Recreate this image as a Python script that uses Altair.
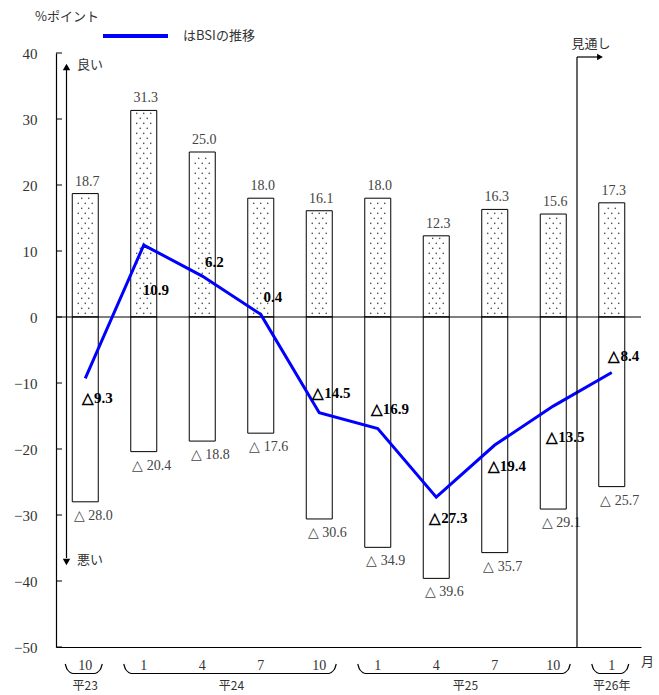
import altair as alt
import pandas as pd

# ---- data ----
months = ["10", "1", "4", "7", "10", "1", "4", "7", "10", "1"]
up_vals = [18.7, 31.3, 25.0, 18.0, 16.1, 18.0, 12.3, 16.3, 15.6, 17.3]
down_vals = [-28.0, -20.4, -18.8, -17.6, -30.6, -34.9, -39.6, -35.7, -29.1, -25.7]
bsi_vals = [-9.3, 10.9, 6.2, 0.4, -14.5, -16.9, -27.3, -19.4, -13.5, -8.4]
bsi_label_offset = [-3.0, -6.8, 2.1, 2.6, 3.0, 3.0, -3.2, -3.2, -4.7, 2.5]
years = ["平23", "平24", "平25", "平26年"]
year_first = [0, 1, 5, 9]
year_last = [0, 4, 8, 9]
y_ticks = [-50, -40, -30, -20, -10, 0, 10, 20, 30, 40]

# ---- layout helpers ----
PL, PT, W, H = 56, 53, 585, 594
STEP = W / 10.0
UNIT = H / 90.0
def to_val(py):
    return 40 - (py - PT) / UNIT

NUM_FONT = "Liberation Serif"
JP_FONT = "Noto Sans CJK JP"

df = pd.DataFrame(dict(i=list(range(10)), month=months, up=up_vals, down=down_vals,
                       bsi=bsi_vals, off=bsi_label_offset))
one = pd.DataFrame({"a": [0]})

xsc = alt.Scale(domain=[-0.5, 9.5], nice=False, zero=False)
ysc = alt.Scale(domain=[-50, 40], nice=False, zero=False)
xaxis = alt.Axis(ticks=False, labels=False, grid=False, domainColor="black",
                 domainWidth=1.2, title=None)
yaxis = alt.Axis(values=y_ticks, ticks=False, grid=False, labelPadding=19,
                 labelFont=NUM_FONT, labelFontSize=15, labelColor="#333",
                 domainColor="black", domainWidth=1.2, title=None)

def X(f):
    return alt.X(f, scale=xsc, axis=xaxis)
def Y(f):
    return alt.Y(f, scale=ysc, axis=yaxis)

base = alt.Chart(df)
half = 13 / STEP

bars_up = base.transform_calculate(
    x0=f"datum.i - {half}", x1=f"datum.i + {half}"
).mark_rect(fill="white", stroke="black", strokeWidth=1).encode(
    x=X("x0:Q"), x2="x1:Q", y=Y("up:Q"), y2=alt.datum(0))

bars_dn = base.transform_calculate(
    x0=f"datum.i - {half}", x1=f"datum.i + {half}"
).mark_rect(fill="white", stroke="black", strokeWidth=1).encode(
    x=X("x0:Q"), x2="x1:Q", y=Y("down:Q"), y2=alt.datum(0))

# dotted texture inside positive bars
rs = 5 / UNIT
c1 = 7 / STEP
c2 = 3.5 / STEP
dots = base.transform_calculate(
    ys=f"sequence(0.55, datum.up - 0.3, {rs})"
).transform_flatten(["ys"]).transform_calculate(
    row=f"round((datum.ys - 0.55) / {rs})",
    xs=f"datum.row % 2 == 0 ? [-{c1}, 0, {c1}] : [-{c2}, {c2}]"
).transform_flatten(["xs"]).transform_calculate(
    dx="datum.i + datum.xs"
).mark_circle(size=2.5, color="#444", opacity=1).encode(
    x=X("dx:Q"), y=Y("ys:Q"))

ticks = alt.Chart(pd.DataFrame({"t": y_ticks})).mark_rule(color="black", strokeWidth=1).encode(
    y=Y("t:Q"), x=alt.value(0), x2=alt.value(6))

zero = alt.Chart(pd.DataFrame({"z": [0]})).mark_rule(color="black", strokeWidth=1).encode(
    y=Y("z:Q"), x=alt.value(0), x2=alt.value(W))

line = base.mark_line(color="#0000ff", strokeWidth=3).encode(
    x=X("i:Q"), y=Y("bsi:Q"))

line_lbl = base.transform_calculate(
    ly="datum.bsi + datum.off",
    lt="datum.bsi >= 0 ? format(datum.bsi, '.1f') : '△' + format(-datum.bsi, '.1f')"
).mark_text(fontWeight="bold", fontSize=15, dx=12, font=NUM_FONT, color="black",
            baseline="middle").encode(
    x=X("i:Q"), y=Y("ly:Q"), text="lt:N")

up_lbl = base.mark_text(baseline="bottom", dy=-5, dx=2, color="#444", fontSize=14,
                        font=NUM_FONT).encode(
    x=X("i:Q"), y=Y("up:Q"), text=alt.Text("up:Q", format=".1f"))

dn_lbl = base.transform_calculate(
    lt="'△ ' + format(-datum.down, '.1f')"
).mark_text(baseline="top", dy=7, dx=8, color="#444", fontSize=14, font=NUM_FONT).encode(
    x=X("i:Q"), y=Y("down:Q"), text="lt:N")

month_lbl = base.mark_text(baseline="middle", color="#333", fontSize=14, font=NUM_FONT).encode(
    x=X("i:Q"), y=alt.value(666 - PT), text="month:N")

ydf = pd.DataFrame({"year": years, "c": [(a + b) / 2 for a, b in zip(year_first, year_last)]})
year_lbl = alt.Chart(ydf).mark_text(baseline="middle", color="#333", fontSize=12, font=JP_FONT).encode(
    x=X("c:Q"), y=alt.value(686 - PT), text="year:N")

# braces under the month labels
brows = []
for g, (a, b) in enumerate(zip(year_first, year_last)):
    x0 = a - 20 / STEP
    x1 = b + 17 / STEP
    pts = [(x0, 664), (x0 + 2 / STEP, 669.5), (x0 + 8 / STEP, 673.5),
           (x1 - 8 / STEP, 673.5), (x1 - 2 / STEP, 669.5), (x1, 664)]
    for k, (bx, py) in enumerate(pts):
        brows.append({"g": g, "k": k, "bx": bx, "by": to_val(py)})
braces = alt.Chart(pd.DataFrame(brows)).mark_line(color="black", strokeWidth=1.2,
                                                  interpolate="monotone").encode(
    x=X("bx:Q"), y=Y("by:Q"), detail="g:N", order="k:Q")

tsuki = alt.Chart(one).mark_text(align="left", baseline="middle", fontSize=13, font=JP_FONT,
                                 color="#333").encode(
    x=alt.value(641 - PL), y=alt.value(662 - PT), text=alt.value("月"))

# forecast divider with arrow
div_v = alt.Chart(one).mark_rule(color="black", strokeWidth=1.2).encode(
    x=alt.value(577 - PL), y=alt.value(57 - PT), y2=alt.value(H))
div_h = alt.Chart(one).mark_rule(color="black", strokeWidth=1.2).encode(
    x=alt.value(577 - PL), x2=alt.value(598 - PL), y=alt.value(57 - PT))
div_head = alt.Chart(one).mark_point(shape="triangle-right", filled=True, color="black",
                                     size=45, opacity=1).encode(
    x=alt.value(600 - PL), y=alt.value(57 - PT))
div_txt = alt.Chart(one).mark_text(fontSize=13, font=JP_FONT, color="#333", baseline="middle").encode(
    x=alt.value(591 - PL), y=alt.value(44 - PT), text=alt.value("見通し"))

# good / bad arrow
ar_v = alt.Chart(one).mark_rule(color="black", strokeWidth=1.2).encode(
    x=alt.value(66.5 - PL), y=alt.value(70 - PT), y2=alt.value(558 - PT))
ar_up = alt.Chart(one).mark_point(shape="triangle-up", filled=True, color="black",
                                  size=55, opacity=1).encode(
    x=alt.value(66.5 - PL), y=alt.value(67 - PT))
ar_dn = alt.Chart(one).mark_point(shape="triangle-down", filled=True, color="black",
                                  size=55, opacity=1).encode(
    x=alt.value(66.5 - PL), y=alt.value(562 - PT))
good = alt.Chart(one).mark_text(align="left", baseline="middle", fontSize=13, font=JP_FONT,
                                color="#333").encode(
    x=alt.value(77 - PL), y=alt.value(65 - PT), text=alt.value("良い"))
bad = alt.Chart(one).mark_text(align="left", baseline="middle", fontSize=13, font=JP_FONT,
                               color="#333").encode(
    x=alt.value(77 - PL), y=alt.value(560 - PT), text=alt.value("悪い"))

# legend & unit
leg_line = alt.Chart(one).mark_rule(color="#0000ff", strokeWidth=4).encode(
    x=alt.value(103 - PL), x2=alt.value(168 - PL), y=alt.value(36 - PT))
leg_txt = alt.Chart(one).mark_text(align="left", baseline="middle", fontSize=13, font=JP_FONT,
                                   color="#333").encode(
    x=alt.value(183 - PL), y=alt.value(36 - PT), text=alt.value("はBSIの推移"))
unit = alt.Chart(one).mark_text(align="left", baseline="middle", fontSize=13, font=JP_FONT,
                                color="#333").encode(
    x=alt.value(35 - PL), y=alt.value(17 - PT), text=alt.value("%ポイント"))

chart = alt.layer(
    bars_up, bars_dn, dots, ticks, zero, line, line_lbl, up_lbl, dn_lbl,
    month_lbl, year_lbl, braces, tsuki, div_v, div_h, div_head, div_txt,
    ar_v, ar_up, ar_dn, good, bad, leg_line, leg_txt, unit
).properties(
    width=W, height=H,
    autosize=alt.AutoSizeParams(type="none"),
    padding={"left": PL, "top": PT, "right": 659 - PL - W, "bottom": 695 - PT - H},
    background="white"
).configure_view(stroke=None)

chart.save("out.html", embed_options={"renderer": "svg", "actions": False})
